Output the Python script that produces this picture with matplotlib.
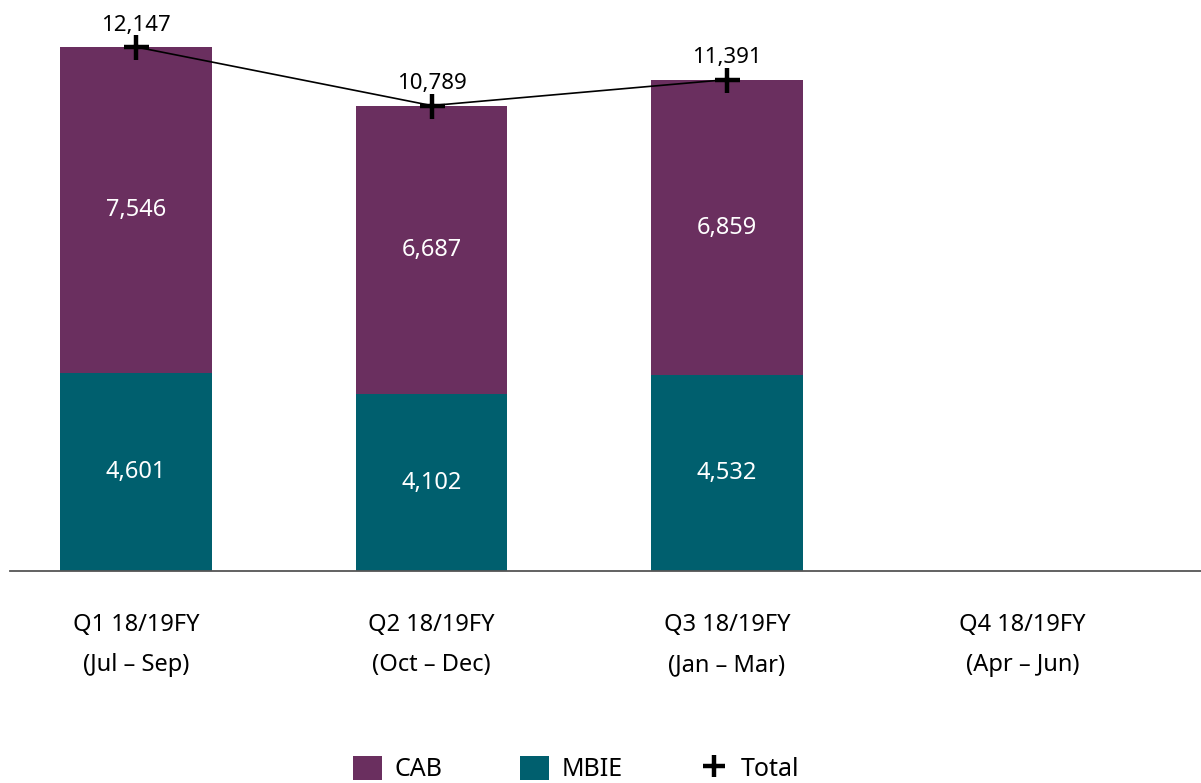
import matplotlib
matplotlib.use("Agg")
import matplotlib.pyplot as plt
from matplotlib.patches import Patch
from matplotlib.lines import Line2D

plt.rcParams['font.family'] = ['Noto Sans', 'DejaVu Sans']

categories = ["Q1 18/19FY\n(Jul – Sep)", "Q2 18/19FY\n(Oct – Dec)",
              "Q3 18/19FY\n(Jan – Mar)", "Q4 18/19FY\n(Apr – Jun)"]
mbie = [4601, 4102, 4532]
cab = [7546, 6687, 6859]
total = [12147, 10789, 11391]

CAB_COLOR = "#6a2f5f"
MBIE_COLOR = "#005f6e"

fig = plt.figure(figsize=(12.01, 7.83), dpi=100)
ax = fig.add_axes([0.0, 212/783, 1.0, 1 - 212/783])

x = list(range(len(mbie)))
width = 0.514
ax.bar(x, mbie, width, color=MBIE_COLOR, zorder=2)
ax.bar(x, cab, width, bottom=mbie, color=CAB_COLOR, zorder=2)
ax.plot(x, total, color="black", lw=1.2, marker="+", markersize=18,
        markeredgewidth=3.2, zorder=4)

for i in x:
    ax.text(i, mbie[i] / 2, f"{mbie[i]:,}", ha="center", va="center",
            color="white", fontsize=17, zorder=5)
    ax.text(i, mbie[i] + cab[i] / 2, f"{cab[i]:,}", ha="center", va="center",
            color="white", fontsize=17, zorder=5)
    ax.annotate(f"{total[i]:,}", (i, total[i]), xytext=(0, 8),
                textcoords="offset points", ha="center", va="bottom",
                fontsize=16, color="black", zorder=5)

ax.set_xlim(-136/295.5, (1201 - 136)/295.5)
ax.set_ylim(0, 13236)
ax.set_xticks(range(len(categories)))
ax.set_xticklabels(categories, fontsize=17, linespacing=1.92)
ax.tick_params(axis="x", length=0, pad=30)
ax.set_yticks([])
for s in ["top", "right", "left"]:
    ax.spines[s].set_visible(False)
ax.spines["bottom"].set_color("#555555")
ax.spines["bottom"].set_linewidth(1.3)
ax.spines["bottom"].set_bounds(-126/295.5, (1201 - 136)/295.5)
ax.patch.set_alpha(0)

handles = [Patch(facecolor=CAB_COLOR, edgecolor="none"),
           Patch(facecolor=MBIE_COLOR, edgecolor="none"),
           Line2D([], [], color="black", marker="+", linestyle="none",
                  markersize=16, markeredgewidth=3.2)]
fig.legend(handles, ["CAB", "MBIE", "Total"], loc="center", ncol=3,
           bbox_to_anchor=(0.48, 14/783), frameon=False, fontsize=18,
           handlelength=1.15, handleheight=1.15, handletextpad=0.5,
           columnspacing=3.1)

fig.savefig("out.png", dpi=100)
